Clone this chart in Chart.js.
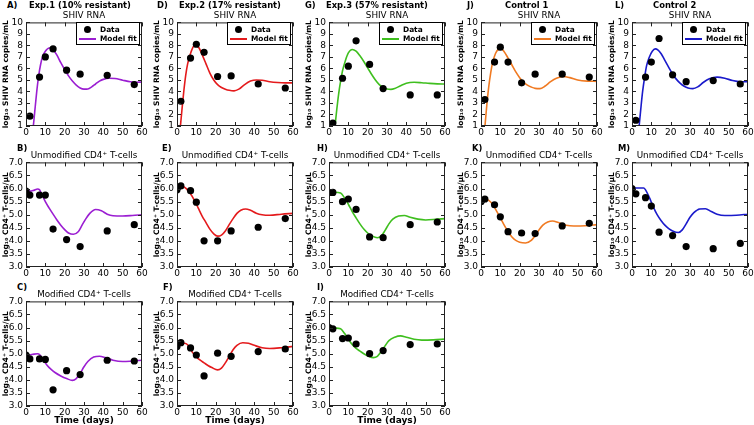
<!DOCTYPE html>
<html>
<head>
<meta charset="utf-8">
<script src="https://cdn.jsdelivr.net/npm/chart.js@4.4.0/dist/chart.umd.min.js"></script>
<style>
  html, body { margin: 0; padding: 0; background: #fff; }
  body { width: 754px; height: 425px; position: relative; overflow: hidden; font-family: "DejaVu Sans", sans-serif; color: #000; }
  canvas { position: absolute; }
  .lab { position: absolute; font-weight: bold; font-size: 8.4px; line-height: 10px; white-space: pre; }
  .ttl { position: absolute; font-size: 8.8px; line-height: 10px; text-align: center; white-space: nowrap; }
  .leg { position: absolute; box-sizing: border-box; width: 64px; height: 23px; border: 1px solid #000; background: #fff; }
  .leg div { position: absolute; left: 23px; font-weight: bold; font-size: 7.4px; line-height: 9px; white-space: nowrap; }
  .leg .dot { position: absolute; left: 7px; top: 3px; width: 7px; height: 7px; border-radius: 50%; background: #000; }
  .leg .ln { position: absolute; left: 2px; top: 15px; width: 17px; height: 2px; }
</style>
</head>
<body>
<script>
// sampling days
const daysRNA = [2, 7, 10, 14, 21, 28, 42, 56];
const daysCD4 = [0, 2, 7, 10, 14, 21, 28, 42, 56];

// --- SHIV RNA (log10 copies/mL) ---
const rnaA = [1.85, 5.25, 7.0, 7.7, 5.85, 5.5, 5.4, 4.6];
const rnaD = [3.15, 6.9, 8.1, 7.4, 5.3, 5.35, 4.65, 4.3];
const rnaG = [1.25, 5.15, 6.2, 8.4, 6.35, 4.25, 3.7, 3.7];
const rnaJ = [3.3, 6.55, 7.85, 6.55, 4.75, 5.5, 5.5, 5.25];
const rnaL = [1.5, 5.25, 6.55, 8.6, 5.45, 4.85, 4.95, 4.65];

const fitDaysA = [3.5, 4.5, 5.5, 6.5, 7.5, 8.5, 10, 12, 13, 14, 16, 18, 20, 22, 24, 26, 28, 30, 32, 34, 36, 38, 40, 43, 46, 50, 54, 57, 60];
const fitA =     [0.5, 2.2, 3.9, 5.3, 6.3, 7.0, 7.5, 7.78, 7.78, 7.65, 7.15, 6.5, 5.9, 5.35, 4.9, 4.55, 4.3, 4.2, 4.22, 4.4, 4.65, 4.9, 5.05, 5.15, 5.12, 4.98, 4.85, 4.8, 4.82];
const fitDaysD = [1.5, 2.5, 3.5, 4.5, 5.5, 7, 8.5, 10, 11.5, 13, 15, 17, 19, 21, 23, 25, 27, 29.5, 32, 35, 38, 41, 44, 48, 52, 56, 60];
const fitD =     [0.5, 2.3, 4.0, 5.4, 6.4, 7.3, 7.9, 8.0, 7.75, 7.2, 6.4, 5.6, 5.0, 4.6, 4.35, 4.2, 4.1, 4.05, 4.2, 4.6, 4.9, 5.0, 4.98, 4.85, 4.78, 4.75, 4.75];
const fitDaysG = [2.8, 4, 5, 6, 7, 8.5, 10, 12, 14, 16, 18, 20, 22, 24, 26, 28, 30, 32, 34, 37, 40, 44, 48, 52, 56, 60];
const fitG =     [0.5, 2.4, 3.8, 4.9, 5.8, 6.7, 7.35, 7.65, 7.5, 7.1, 6.6, 6.05, 5.5, 5.0, 4.6, 4.35, 4.22, 4.18, 4.25, 4.5, 4.72, 4.8, 4.76, 4.7, 4.66, 4.65];
const fitDaysJ = [1.8, 3, 4, 5, 6, 7.5, 9, 10.5, 12, 14, 16, 18, 20, 22, 24, 26, 28, 30.5, 33, 36, 39, 42.5, 46, 50, 55, 60];
const fitJ =     [0.5, 2.8, 4.4, 5.6, 6.5, 7.3, 7.65, 7.7, 7.45, 6.9, 6.3, 5.7, 5.2, 4.8, 4.55, 4.38, 4.27, 4.25, 4.45, 4.85, 5.15, 5.3, 5.2, 5.0, 4.9, 4.88];
const fitDaysL = [3.4, 4.5, 5.5, 6.5, 7.5, 9, 10.5, 12, 13.5, 15, 17, 19, 21, 23, 25, 27, 29, 31.5, 34, 37, 40, 44, 48, 52, 56, 60];
const fitL =     [0.5, 2.4, 4.0, 5.2, 6.2, 7.0, 7.5, 7.7, 7.6, 7.3, 6.7, 6.1, 5.5, 5.05, 4.7, 4.45, 4.3, 4.25, 4.4, 4.8, 5.1, 5.25, 5.15, 4.95, 4.85, 4.85];

// --- Unmodified CD4+ T-cells (log10 cells/uL) ---
const unmodB = [5.9, 5.75, 5.75, 5.75, 4.45, 4.05, 3.78, 4.38, 4.62];
const unmodE = [5.95, 6.1, 5.92, 5.48, 4.0, 4.0, 4.38, 4.52, 4.85];
const unmodH = [5.85, 5.85, 5.5, 5.6, 5.2, 4.15, 4.12, 4.62, 4.72];
const unmodK = [5.5, 5.6, 5.38, 4.92, 4.35, 4.3, 4.28, 4.57, 4.67];
const unmodM = [6.0, 5.8, 5.65, 5.33, 4.33, 4.2, 3.78, 3.7, 3.9];

const fitDaysB = [0, 2, 4, 6, 7, 8, 10, 12, 14, 16, 18, 20, 22, 24.5, 27, 29, 31, 33, 36, 39, 42, 45, 50, 55, 60];
const fitB =     [5.95, 5.9, 5.93, 5.98, 5.95, 5.8, 5.5, 5.25, 5.02, 4.8, 4.6, 4.43, 4.3, 4.25, 4.35, 4.6, 4.85, 5.05, 5.2, 5.15, 5.02, 4.96, 4.95, 4.97, 5.0];
const fitDaysE = [0, 1.5, 3, 5, 7, 9, 11, 13, 15, 17, 19, 21, 23, 25, 27, 29, 31, 33, 35.5, 38, 41, 44, 48, 54, 60];
const fitE =     [5.95, 6.03, 6.08, 5.98, 5.8, 5.55, 5.25, 4.95, 4.7, 4.45, 4.27, 4.18, 4.22, 4.38, 4.62, 4.85, 5.05, 5.17, 5.22, 5.17, 5.06, 5.0, 4.98, 5.02, 5.05];
const fitDaysH = [0, 3, 6, 8, 10, 12, 14, 16, 18, 20, 22, 25, 27, 29, 31, 33, 36, 39, 42, 46, 50, 55, 60];
const fitH =     [5.85, 5.86, 5.83, 5.65, 5.4, 5.12, 4.88, 4.65, 4.45, 4.3, 4.2, 4.12, 4.18, 4.4, 4.65, 4.83, 4.95, 4.97, 4.9, 4.83, 4.8, 4.82, 4.85];
const fitDaysK = [0, 2, 4, 6, 8, 10, 12, 14, 16, 18, 20, 23, 26, 28, 30, 32, 34.5, 37, 40, 44, 48, 54, 60];
const fitK =     [5.5, 5.6, 5.55, 5.4, 5.15, 4.88, 4.6, 4.35, 4.15, 4.02, 3.95, 3.92, 4.02, 4.2, 4.42, 4.6, 4.72, 4.76, 4.7, 4.6, 4.57, 4.58, 4.62];
const fitDaysM = [0, 3, 6, 7, 9, 11, 13, 15, 17, 19, 21, 24, 26, 28, 30, 32, 35, 38, 41, 44, 48, 54, 60];
const fitM =     [6.02, 6.02, 6.02, 5.95, 5.65, 5.3, 5.0, 4.78, 4.6, 4.47, 4.38, 4.32, 4.42, 4.65, 4.9, 5.08, 5.22, 5.23, 5.12, 5.02, 4.97, 4.98, 5.02];

// --- Modified CD4+ T-cells (log10 cells/uL) ---
const modC = [4.95, 4.8, 4.8, 4.78, 3.62, 4.35, 4.2, 4.75, 4.72];
const modF = [5.28, 5.42, 5.22, 4.95, 4.15, 5.02, 4.9, 5.08, 5.18];
const modI = [6.0, 5.95, 5.58, 5.6, 5.37, 5.0, 5.12, 5.35, 5.37];

const fitDaysC = [0, 3, 6, 7, 9, 11, 13, 15, 18, 21, 24, 26, 28, 30, 32, 35, 38, 41, 45, 50, 55, 60];
const fitC =     [4.95, 4.97, 5.0, 4.97, 4.75, 4.55, 4.4, 4.28, 4.15, 4.05, 3.98, 4.05, 4.25, 4.5, 4.7, 4.87, 4.9, 4.85, 4.75, 4.7, 4.72, 4.75];
const fitDaysF = [0, 2, 4, 6, 8, 10, 12, 14, 16, 18, 21, 23, 25, 27, 29, 31, 34, 37, 40, 44, 48, 54, 60];
const fitF =     [5.3, 5.38, 5.4, 5.3, 5.05, 4.88, 4.75, 4.65, 4.55, 4.47, 4.38, 4.45, 4.65, 4.9, 5.15, 5.32, 5.42, 5.4, 5.32, 5.23, 5.2, 5.23, 5.28];
const fitDaysI = [0, 3, 6, 8, 10, 12, 14, 16, 18, 20, 23, 25, 27, 29, 31, 34, 37, 40, 44, 48, 54, 60];
const fitI =     [6.0, 5.98, 5.95, 5.78, 5.55, 5.35, 5.2, 5.1, 5.0, 4.92, 4.85, 4.9, 5.08, 5.3, 5.5, 5.63, 5.68, 5.63, 5.55, 5.52, 5.53, 5.56];

const xTicks = [0, 10, 20, 30, 40, 50, 60];

// colours
const PURPLE = '#9b1ed2';
const RED = '#e41a1c';
const GREEN = '#3fbf1f';
const ORANGE = '#f07a22';
const BLUE = '#1a1acb';

// layout of the grid
const colLeft = [26, 177, 329, 481, 632];
const rowTop = [20, 160, 299];
const rowH = [106, 107, 107];
const plotW = 116;
const yAxisW = 26;

const RNA_TITLE = 'log\u2081\u2080 SHIV RNA copies/mL';
const CD4_TITLE = 'log\u2081\u2080 CD4\u207A T-cells/\u03BCL';
const UNMOD = 'Unmodified CD4\u207A  T-cells';
const MOD = 'Modified CD4\u207A  T-cells';

const panels = [
  {col: 0, row: 0, tag: 'A)', head: 'Exp.1 (10% resistant)', title: 'SHIV RNA', color: PURPLE, days: daysRNA, data: rnaA, fd: fitDaysA, fv: fitA, lx: 7, hx: 29},
  {col: 1, row: 0, tag: 'D)', head: 'Exp.2 (17% resistant)', title: 'SHIV RNA', color: RED, days: daysRNA, data: rnaD, fd: fitDaysD, fv: fitD, lx: 157, hx: 179},
  {col: 2, row: 0, tag: 'G)', head: 'Exp.3 (57% resistant)', title: 'SHIV RNA', color: GREEN, days: daysRNA, data: rnaG, fd: fitDaysG, fv: fitG, lx: 305, hx: 326},
  {col: 3, row: 0, tag: 'J)', head: 'Control 1', title: 'SHIV RNA', color: ORANGE, days: daysRNA, data: rnaJ, fd: fitDaysJ, fv: fitJ, lx: 467, hx: 505},
  {col: 4, row: 0, tag: 'L)', head: 'Control 2', title: 'SHIV RNA', color: BLUE, days: daysRNA, data: rnaL, fd: fitDaysL, fv: fitL, lx: 615, hx: 653},
  {col: 0, row: 1, tag: 'B)', title: UNMOD, color: PURPLE, days: daysCD4, data: unmodB, fd: fitDaysB, fv: fitB, lx: 17},
  {col: 1, row: 1, tag: 'E)', title: UNMOD, color: RED, days: daysCD4, data: unmodE, fd: fitDaysE, fv: fitE, lx: 162},
  {col: 2, row: 1, tag: 'H)', title: UNMOD, color: GREEN, days: daysCD4, data: unmodH, fd: fitDaysH, fv: fitH, lx: 317},
  {col: 3, row: 1, tag: 'K)', title: UNMOD, color: ORANGE, days: daysCD4, data: unmodK, fd: fitDaysK, fv: fitK, lx: 472},
  {col: 4, row: 1, tag: 'M)', title: UNMOD, color: BLUE, days: daysCD4, data: unmodM, fd: fitDaysM, fv: fitM, lx: 618},
  {col: 0, row: 2, tag: 'C)', title: MOD, color: PURPLE, days: daysCD4, data: modC, fd: fitDaysC, fv: fitC, lx: 17},
  {col: 1, row: 2, tag: 'F)', title: MOD, color: RED, days: daysCD4, data: modF, fd: fitDaysF, fv: fitF, lx: 163},
  {col: 2, row: 2, tag: 'I)', title: MOD, color: GREEN, days: daysCD4, data: modI, fd: fitDaysI, fv: fitI, lx: 317}
];

// box round the axes with inward ticks, matplotlib style
const framePlugin = {
  id: 'frame',
  afterDatasetsDraw(chart) {
    const { ctx, chartArea: a, scales } = chart;
    ctx.save();
    ctx.strokeStyle = '#222';
    ctx.lineWidth = 1;
    ctx.beginPath();
    scales.x.ticks.forEach(t => {
      const px = Math.round(scales.x.getPixelForValue(t.value)) + 0.5;
      ctx.moveTo(px, a.bottom); ctx.lineTo(px, a.bottom - 4);
      ctx.moveTo(px, a.top); ctx.lineTo(px, a.top + 4);
    });
    scales.y.ticks.forEach(t => {
      const py = Math.round(scales.y.getPixelForValue(t.value)) + 0.5;
      ctx.moveTo(a.left, py); ctx.lineTo(a.left + 4, py);
      ctx.moveTo(a.right, py); ctx.lineTo(a.right - 4, py);
    });
    ctx.stroke();
    ctx.strokeRect(a.left + 0.5, a.top + 0.5, a.width - 1, a.height - 1);
    ctx.restore();
  }
};

Chart.defaults.font.family = '"DejaVu Sans", sans-serif';
Chart.defaults.color = '#000';

function addDiv(cls, text, left, top, extra) {
  const d = document.createElement('div');
  d.className = cls;
  d.textContent = text;
  d.style.left = left + 'px';
  d.style.top = top + 'px';
  if (extra) Object.assign(d.style, extra);
  document.body.appendChild(d);
  return d;
}

panels.forEach(p => {
  const plotL = colLeft[p.col];
  const plotT = rowTop[p.row];
  const plotH = rowH[p.row];
  const isRNA = p.row === 0;
  const bottomRow = p.row === 2;
  const bottomH = bottomRow ? 20 : 14;
  const padTop = 6, padRight = 10;

  const cv = document.createElement('canvas');
  const w = yAxisW + plotW + padRight;
  const h = padTop + plotH + bottomH;
  cv.width = w; cv.height = h;
  cv.style.left = (plotL - yAxisW) + 'px';
  cv.style.top = (plotT - padTop) + 'px';
  document.body.appendChild(cv);

  // titles
  if (p.head) {
    addDiv('lab', p.tag, p.lx, 0);
    addDiv('lab', p.head, p.hx, 0);
  } else {
    addDiv('lab', p.tag, p.lx, plotT - 17);
  }
  addDiv('ttl', p.title, plotL, plotT - 10, { width: plotW + 'px' });

  // legend box inside the RNA panels
  if (isRNA) {
    const lg = addDiv('leg', '', plotL + plotW - 66, plotT + 2);
    const dot = document.createElement('span'); dot.className = 'dot'; lg.appendChild(dot);
    const ln = document.createElement('span'); ln.className = 'ln'; ln.style.background = p.color; lg.appendChild(ln);
    const t1 = document.createElement('div'); t1.textContent = 'Data'; t1.style.top = '2px'; lg.appendChild(t1);
    const t2 = document.createElement('div'); t2.textContent = 'Model fit'; t2.style.top = '11px'; lg.appendChild(t2);
  }

  const fitPts = p.fd.map((d, i) => ({ x: d, y: p.fv[i] }));
  const dataPts = p.days.map((d, i) => ({ x: d, y: p.data[i] }));

  new Chart(cv.getContext('2d'), {
    type: 'scatter',
    data: {
      datasets: [
        {
          label: 'Data', data: dataPts, showLine: false,
          pointRadius: 3.6, pointBackgroundColor: '#000', pointBorderWidth: 0, order: 0
        },
        {
          label: 'Model fit', data: fitPts, showLine: true,
          borderColor: p.color, borderWidth: 1.6, pointRadius: 0,
          cubicInterpolationMode: 'monotone', order: 1
        }
      ]
    },
    options: {
      responsive: false,
      animation: false,
      events: [],
      layout: { padding: { top: padTop, right: padRight, left: 0, bottom: 0 } },
      plugins: { legend: { display: false }, tooltip: { enabled: false } },
      scales: {
        x: {
          type: 'linear', min: 0, max: 60,
          afterBuildTicks: s => { s.ticks = xTicks.map(v => ({ value: v })); },
          ticks: { font: { size: 9 }, padding: 1, maxRotation: 0, autoSkip: false },
          grid: { display: false, drawTicks: false },
          border: { display: false },
          title: { display: bottomRow, text: 'Time (days)', font: { size: 9, weight: 'bold' }, padding: 0 },
          afterFit: s => { s.height = bottomH; }
        },
        y: {
          type: 'linear',
          min: isRNA ? 1 : 3, max: isRNA ? 10 : 7,
          ticks: {
            stepSize: isRNA ? 1 : 0.5, font: { size: 9 }, padding: 3, autoSkip: false,
            callback: v => isRNA ? String(v) : v.toFixed(1)
          },
          grid: { display: false, drawTicks: false },
          border: { display: false },
          title: { display: true, text: isRNA ? RNA_TITLE : CD4_TITLE, font: { size: 7.5, weight: 'bold' }, padding: { top: 2, bottom: 0 } },
          afterFit: s => { s.width = yAxisW; }
        }
      }
    },
    plugins: [framePlugin]
  });
});
</script>
</body>
</html>
